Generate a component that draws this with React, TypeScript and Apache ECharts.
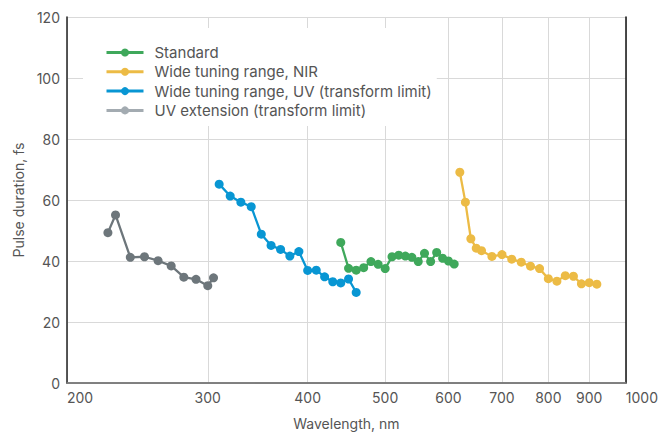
import React, { useEffect, useRef } from "react";
import * as echarts from "echarts";

const seriesNames = [
  "Standard",
  "Wide tuning range, NIR",
  "Wide tuning range, UV (transform limit)",
  "UV extension (transform limit)",
];
const seriesColors = ["#3fa85b", "#ecbb45", "#0896d3", "#6d767b"];
const legendColors = ["#3fa85b", "#ecbb45", "#0896d3", "#a3abb1"];

const standardWl = [440, 450, 460, 470, 480, 490, 500, 510, 520, 530, 540, 550, 560, 570, 580, 590, 600, 610];
const standardFs = [46.1, 37.6, 37.0, 37.8, 39.8, 38.9, 37.5, 41.4, 41.9, 41.6, 41.2, 39.8, 42.5, 39.8, 42.8, 40.9, 40.0, 39.0];

const nirWl = [620, 630, 640, 650, 660, 680, 700, 720, 740, 760, 780, 800, 820, 840, 860, 880, 900, 920];
const nirFs = [69.1, 59.3, 47.3, 44.2, 43.4, 41.5, 42.1, 40.6, 39.6, 38.3, 37.5, 34.2, 33.4, 35.2, 35.0, 32.5, 32.9, 32.4];

const uvWl = [310, 320, 330, 340, 350, 360, 370, 380, 390, 400, 410, 420, 430, 440, 450, 460];
const uvFs = [65.2, 61.3, 59.3, 57.8, 48.8, 45.1, 43.8, 41.6, 43.1, 36.9, 37.0, 34.8, 33.2, 32.8, 34.1, 29.7];

const extWl = [225, 230, 240, 250, 260, 270, 280, 290, 300, 305];
const extFs = [49.3, 55.1, 41.2, 41.4, 40.1, 38.4, 34.7, 34.0, 31.9, 34.5];

const xTickValues = [200, 300, 400, 500, 600, 700, 800, 900, 1000];
const yMin = 0;
const yMax = 120;
const yStep = 20;

const FONT = "Inter, Roboto, sans-serif";

function pairs(xs: number[], ys: number[]) {
  return xs.map((x, i) => [x, ys[i]]);
}

export default function App() {
  const ref = useRef<HTMLDivElement>(null);
  useEffect(() => {
    if (!ref.current) return;
    const chart = echarts.init(ref.current, undefined, { renderer: "svg" });
    const allData = [
      pairs(standardWl, standardFs),
      pairs(nirWl, nirFs),
      pairs(uvWl, uvFs),
      pairs(extWl, extFs),
    ];
    chart.setOption({
      animation: false,
      backgroundColor: "#ffffff",
      textStyle: { fontFamily: FONT },
      grid: { left: 67, right: 31, top: 17, bottom: 52, containLabel: false },
      legend: {
        orient: "vertical",
        left: 83,
        top: 28,
        padding: [17, 5, 8, 22],
        backgroundColor: "#ffffff",
        itemWidth: 37,
        itemHeight: 10,
        itemGap: 4.3,
        lineStyle: { width: 3 },
        textStyle: { fontFamily: FONT, fontSize: 15, color: "#555555", padding: [0, 0, 0, 6] },
        data: seriesNames.map((n, i) => ({
          name: n,
          itemStyle: { color: legendColors[i] },
          lineStyle: { color: legendColors[i], width: 3 },
        })),
      },
      xAxis: [
        {
          type: "log",
          logBase: 10,
          min: 200,
          max: 1000,
          name: "Wavelength, nm",
          nameLocation: "middle",
          nameGap: 33,
          nameTextStyle: { fontFamily: FONT, fontSize: 14, color: "#555555" },
          axisLine: { show: true, lineStyle: { color: "#333333", width: 1.5 } },
          axisTick: { show: false, customValues: xTickValues },
          axisLabel: {
            customValues: xTickValues,
            fontFamily: FONT,
            fontSize: 14,
            color: "#555555",
            margin: 7,
            alignMinLabel: "left",
            alignMaxLabel: "left",
            formatter: (v: number) => String(Math.round(v)),
          },
          splitLine: { show: true, lineStyle: { color: "#d9d9d9", width: 1 } },
          minorSplitLine: { show: false },
        },
        {
          type: "log",
          logBase: 10,
          min: 200,
          max: 1000,
          position: "top",
          axisLine: { show: true, lineStyle: { color: "#8a8a8a", width: 1.5 } },
          axisTick: { show: false },
          axisLabel: { show: false },
          splitLine: { show: false },
        },
      ],
      yAxis: [
        {
          type: "value",
          min: yMin,
          max: yMax,
          interval: yStep,
          name: "Pulse duration, fs",
          nameLocation: "middle",
          nameGap: 42,
          nameTextStyle: { fontFamily: FONT, fontSize: 14, color: "#555555" },
          axisLine: { show: true, lineStyle: { color: "#222222", width: 1.5 } },
          axisTick: { show: false },
          axisLabel: { fontFamily: FONT, fontSize: 14, color: "#555555", margin: 7 },
          splitLine: { show: true, lineStyle: { color: "#d9d9d9", width: 1 } },
        },
        {
          type: "value",
          min: yMin,
          max: yMax,
          interval: yStep,
          position: "right",
          axisLine: { show: true, lineStyle: { color: "#111111", width: 1.5 } },
          axisTick: { show: false },
          axisLabel: { show: false },
          splitLine: { show: false },
        },
      ],
      series: seriesNames.map((n, i) => ({
        name: n,
        type: "line",
        xAxisIndex: 0,
        yAxisIndex: 0,
        data: allData[i],
        symbol: "circle",
        symbolSize: 9,
        showSymbol: true,
        color: seriesColors[i],
        lineStyle: { color: seriesColors[i], width: 2.3 },
        itemStyle: { color: seriesColors[i] },
        z: 3,
      })),
    });
    return () => chart.dispose();
  }, []);
  return (
    <div
      ref={ref}
      style={{ position: "absolute", left: 0, top: 0, width: 661, height: 435 }}
    />
  );
}
